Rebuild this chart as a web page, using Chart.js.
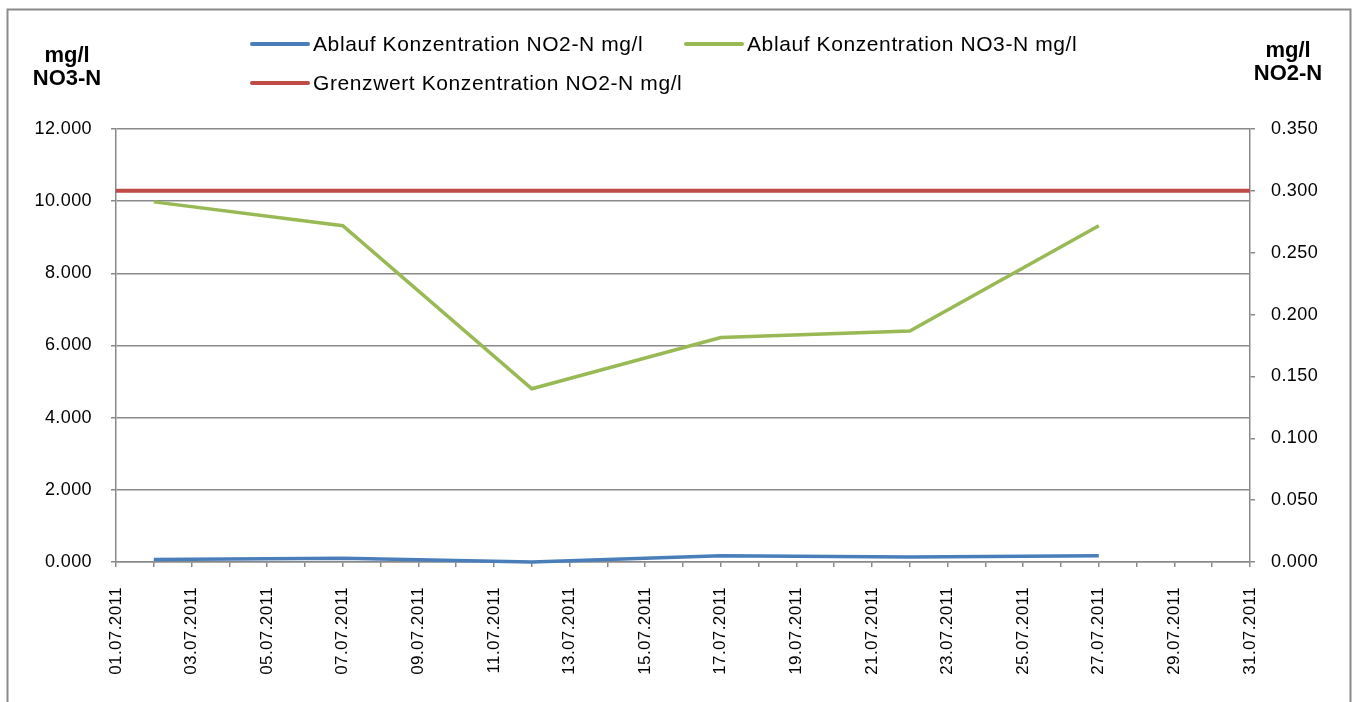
<!DOCTYPE html>
<html>
<head>
<meta charset="utf-8">
<script src="https://cdn.jsdelivr.net/npm/chart.js@4.4.1/dist/chart.umd.min.js"></script>
<style>
  html, body { margin: 0; padding: 0; background: #fff; }
  #wrap { width: 1358px; height: 702px; }
</style>
</head>
<body>
<div id="wrap"><canvas id="no-chart" width="1358" height="702"></canvas></div>
<script>
// Ablauf NO2-N / NO3-N, Juli 2011

var sampleDates = ['02.07.2011', '07.07.2011', '12.07.2011', '17.07.2011', '22.07.2011', '27.07.2011'];
var no2Values = [0.002, 0.003, 0.000, 0.005, 0.004, 0.005];
var no3Values = [9.98, 9.32, 4.80, 6.22, 6.40, 9.32];

var limitDates = ['01.07.2011', '31.07.2011'];
var limitValues = [0.3, 0.3];

var seriesNames = [
	'Ablauf Konzentration NO2-N mg/l',
	'Ablauf Konzentration NO3-N mg/l',
	'Grenzwert Konzentration NO2-N mg/l'
];
var seriesColors = ['#4A7EBB', '#98B954', '#BE4B48'];

var leftTitle = ['mg/l', 'NO3-N'];
var rightTitle = ['mg/l', 'NO2-N'];

// every day of July 2011 on the x axis
var dayLabels = [];
for (var d = 1; d <= 31; d++) {
	dayLabels.push((d < 10 ? '0' + d : '' + d) + '.07.2011');
}

function toPoints(dates, values) {
	return dates.map(function(dt, i) { return { x: dt, y: values[i] }; });
}

var FONT = "'Liberation Sans', Arial, sans-serif";

// frame, axis titles and legend
var decoPlugin = {
	id: 'deco',
	beforeDraw: function(chart) {
		var ctx = chart.ctx;
		ctx.save();
		ctx.fillStyle = '#fff';
		ctx.fillRect(0, 0, chart.width, chart.height);
		ctx.strokeStyle = '#8a8a8a';
		ctx.lineWidth = 2;
		ctx.strokeRect(7.5, 9.5, 1343, 760);
		ctx.restore();
		ctx.letterSpacing = '0.4px';
	},
	afterDraw: function(chart) {
		var ctx = chart.ctx;
		ctx.save();
		ctx.letterSpacing = '0px';
		ctx.fillStyle = '#000';
		ctx.font = 'bold 22px ' + FONT;
		ctx.textAlign = 'center';
		ctx.textBaseline = 'alphabetic';
		ctx.fillText(leftTitle[0], 67, 62);
		ctx.fillText(leftTitle[1], 67, 85);
		ctx.fillText(rightTitle[0], 1288, 57);
		ctx.fillText(rightTitle[1], 1288, 80);

		var spots = [[252, 44], [686, 44], [252, 83]];
		ctx.font = '21px ' + FONT;
		ctx.letterSpacing = '0.6px';
		ctx.textAlign = 'left';
		ctx.textBaseline = 'middle';
		chart.data.datasets.forEach(function(ds, i) {
			var p = spots[i];
			ctx.strokeStyle = ds.borderColor;
			ctx.lineWidth = 4;
			ctx.lineCap = 'round';
			ctx.beginPath();
			ctx.moveTo(p[0], p[1]);
			ctx.lineTo(p[0] + 56, p[1]);
			ctx.stroke();
			ctx.fillText(ds.label, p[0] + 61, p[1] + 1);
		});
		ctx.restore();
	}
};

window.addEventListener('load', function() {
	var ctx = document.getElementById('no-chart').getContext('2d');
	new Chart(ctx, {
		type: 'line',
		data: {
			labels: dayLabels,
			datasets: [{
				label: seriesNames[0],
				data: toPoints(sampleDates, no2Values),
				borderColor: seriesColors[0],
				yAxisID: 'yR',
				borderWidth: 3.5,
				pointRadius: 0,
				clip: false
			}, {
				label: seriesNames[1],
				data: toPoints(sampleDates, no3Values),
				borderColor: seriesColors[1],
				yAxisID: 'yL',
				borderWidth: 3.5,
				pointRadius: 0,
				clip: false
			}, {
				label: seriesNames[2],
				data: toPoints(limitDates, limitValues),
				borderColor: seriesColors[2],
				yAxisID: 'yR',
				borderWidth: 4,
				pointRadius: 0,
				clip: false
			}]
		},
		options: {
			responsive: false,
			animation: false,
			layout: { padding: { top: 129, left: 16, right: 8, bottom: 0 } },
			plugins: {
				legend: { display: false },
				tooltip: { enabled: false }
			},
			scales: {
				x: {
					type: 'category',
					offset: false,
					grid: {
						drawOnChartArea: false,
						color: '#898989',
						tickLength: 5,
						lineWidth: 1.5
					},
					border: { color: '#898989', width: 1.5 },
					ticks: {
						autoSkip: false,
						minRotation: 90,
						maxRotation: 90,
						padding: 20,
						color: '#000',
						font: { family: FONT, size: 17 },
						callback: function(val, idx) {
							return idx % 2 === 0 ? this.getLabelForValue(val) : '';
						}
					},
					afterFit: function(scale) { scale.height = 140; }
				},
				yL: {
					position: 'left',
					min: 0,
					max: 12,
					grid: { color: '#898989', lineWidth: 1.5, tickLength: 5 },
					border: { color: '#898989', width: 1.5 },
					ticks: {
						stepSize: 2,
						padding: 19,
						color: '#000',
						font: { family: FONT, size: 18 },
						callback: function(v) { return v.toFixed(3); }
					},
					afterFit: function(scale) { scale.width = 100; }
				},
				yR: {
					position: 'right',
					min: 0,
					max: 0.35,
					grid: { drawOnChartArea: false, color: '#898989', lineWidth: 1.5, tickLength: 5 },
					border: { color: '#898989', width: 1.5 },
					ticks: {
						stepSize: 0.05,
						padding: 16,
						color: '#000',
						font: { family: FONT, size: 18 },
						callback: function(v) { return v.toFixed(3); }
					},
					afterFit: function(scale) { scale.width = 100; }
				}
			}
		},
		plugins: [decoPlugin]
	});
});
</script>
</body>
</html>
